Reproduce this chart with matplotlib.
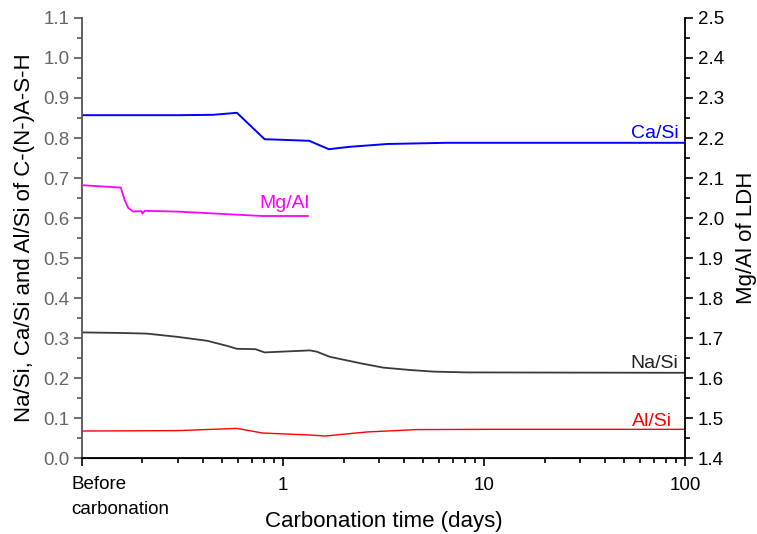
import numpy as np
import matplotlib.pyplot as plt
from matplotlib.ticker import MultipleLocator, LogLocator, NullFormatter, FixedLocator, FixedFormatter

plt.rcParams['font.family'] = ['Liberation Sans', 'DejaVu Sans']

# Ca/Si of C-(N-)A-S-H vs carbonation time (0.1 = before carbonation)
ca_t = [0.1, 0.3, 0.45, 0.59, 0.81, 1.35, 1.69, 2.15, 3.3, 6.5, 100]
ca_v = [0.857, 0.857, 0.858, 0.863, 0.797, 0.793, 0.772, 0.778, 0.785, 0.788, 0.788]

# Na/Si
na_t = [0.1, 0.16, 0.21, 0.297, 0.42, 0.53, 0.59, 0.73, 0.81, 1.36, 1.47, 1.71,
        2.42, 3.15, 4.3, 5.6, 8.2, 100]
na_v = [0.314, 0.3125, 0.311, 0.303, 0.293, 0.280, 0.273, 0.272, 0.264, 0.269, 0.266, 0.253,
        0.237, 0.226, 0.220, 0.216, 0.214, 0.213]

# Al/Si
al_t = [0.1, 0.3, 0.59, 0.79, 1.36, 1.62, 2.6, 4.6, 10, 100]
al_v = [0.0675, 0.0685, 0.074, 0.0625, 0.0575, 0.055, 0.065, 0.071, 0.0717, 0.0717]

# Mg/Al of LDH (right axis)
mg_t = [0.1, 0.156, 0.163, 0.17, 0.18, 0.19, 0.198, 0.2, 0.205, 0.3, 0.79, 1.33]
mg_v = [2.082, 2.076, 2.045, 2.025, 2.016, 2.017, 2.017, 2.011, 2.018, 2.016, 2.005, 2.005]

fig = plt.figure(figsize=(7.57, 5.34), dpi=100)
ax = fig.add_axes([0.1083, 0.1423, 0.7966, 0.824])
ax2 = ax.twinx()

ax.plot(ca_t, ca_v, color='#0000ff', lw=1.4)
ax.plot(na_t, na_v, color='#3a3a3a', lw=1.3)
ax.plot(al_t, al_v, color='#ff0000', lw=1.0)
ax2.plot(mg_t, mg_v, color='#ff00ff', lw=1.3)

ax.set_xscale('log')
ax.set_xlim(0.1, 100)
ax.set_ylim(0, 1.1)
ax2.set_ylim(1.4, 2.5)

grey = '#555555'
fs_tick = 13.5
ax.yaxis.set_major_locator(MultipleLocator(0.1))
ax.yaxis.set_minor_locator(MultipleLocator(0.05))
ax.yaxis.set_major_formatter(plt.FuncFormatter(lambda v, p: f'{v:.1f}'))
ax.tick_params(axis='y', which='major', direction='out', length=6, width=1.2, color=grey,
               labelcolor='#666666', labelsize=fs_tick, pad=3)
ax.tick_params(axis='y', which='minor', direction='out', length=3.5, width=1.2, color=grey)

ax2.yaxis.set_major_locator(MultipleLocator(0.1))
ax2.yaxis.set_minor_locator(MultipleLocator(0.05))
ax2.yaxis.set_major_formatter(plt.FuncFormatter(lambda v, p: f'{v:.1f}'))
ax2.tick_params(axis='y', which='major', direction='out', length=6, width=1.2,
                labelsize=fs_tick, pad=3)
ax2.tick_params(axis='y', which='minor', direction='out', length=3.5, width=1.2)

ax.xaxis.set_major_locator(FixedLocator([0.1, 1, 10, 100]))
ax.xaxis.set_major_formatter(FixedFormatter(['', '1', '10', '100']))
ax.xaxis.set_minor_locator(LogLocator(base=10, subs=np.arange(2, 10)))
ax.xaxis.set_minor_formatter(NullFormatter())
ax.tick_params(axis='x', which='major', direction='out', length=6, width=1.2,
               labelsize=fs_tick, pad=8)
ax.tick_params(axis='x', which='minor', direction='out', length=3.5, width=1.2)

# first tick stands for the uncarbonated sample
ax.text(-0.018, -0.04, 'Before\ncarbonation', transform=ax.transAxes,
        ha='left', va='top', fontsize=fs_tick, linespacing=1.65)

for a in (ax, ax2):
    a.spines['top'].set_visible(False)
ax.spines['left'].set_color(grey)
ax2.spines['left'].set_visible(False)
ax.spines['right'].set_visible(False)
ax.spines['bottom'].set_linewidth(1.3)
ax.spines['left'].set_linewidth(1.3)
ax2.spines['right'].set_linewidth(1.3)

ax.set_xlabel('Carbonation time (days)', fontsize=16, labelpad=12)
ax.set_ylabel('Na/Si, Ca/Si and Al/Si of C-(N-)A-S-H', fontsize=16, labelpad=6)
ax2.set_ylabel('Mg/Al of LDH', fontsize=16, labelpad=9)

ax.text(93, 0.80, 'Ca/Si', color='#0000ff', ha='right', va='baseline', fontsize=14)
ax.text(93, 0.225, 'Na/Si', color='#222222', ha='right', va='baseline', fontsize=14)
ax.text(86, 0.08, 'Al/Si', color='#ff0000', ha='right', va='baseline', fontsize=14)
ax2.text(1.35, 2.025, 'Mg/Al', color='#ff00ff', ha='right', va='baseline', fontsize=14)

fig.savefig('out.png', dpi=100)
